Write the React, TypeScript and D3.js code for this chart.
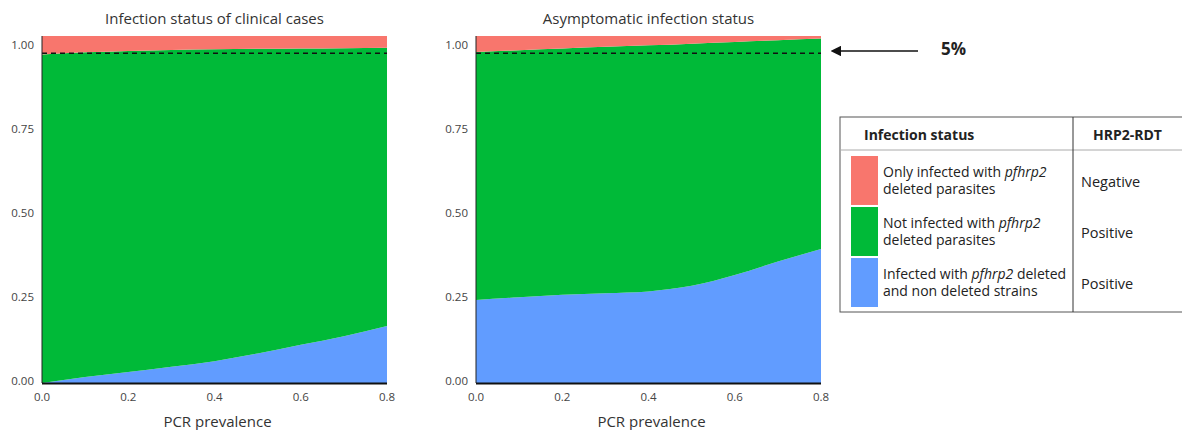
import React from 'react';
import * as d3 from 'd3';

// PCR prevalence sample points
const prevalence = [0, 0.1, 0.2, 0.3, 0.4, 0.5, 0.6, 0.7, 0.8];

// clinical cases: share infected with both deleted and non deleted strains
const clinicalMixed = [0, 0.017, 0.032, 0.047, 0.063, 0.085, 0.11, 0.135, 0.164];
// clinical cases: share only infected with deleted parasites
const clinicalDeletedOnly = [0.053, 0.047, 0.043, 0.04, 0.038, 0.037, 0.036, 0.035, 0.034];

// asymptomatic: mixed infections
const asymMixed = [0.239, 0.247, 0.254, 0.259, 0.264, 0.28, 0.311, 0.35, 0.386];
// asymptomatic: deleted-only infections
const asymDeletedOnly = [0.046, 0.041, 0.036, 0.031, 0.027, 0.022, 0.017, 0.012, 0.007];

const xTicks = [0, 0.2, 0.4, 0.6, 0.8];
const yTicks = [0, 0.25, 0.5, 0.75, 1];
const threshold = 0.95;

const legendRows = [
  { color: '#f8766d', pre: 'Only infected with ', it: 'pfhrp2', post: '', line2: 'deleted parasites', rdt: 'Negative' },
  { color: '#00ba38', pre: 'Not infected with ', it: 'pfhrp2', post: '', line2: 'deleted parasites', rdt: 'Positive' },
  { color: '#619cff', pre: 'Infected with ', it: 'pfhrp2', post: ' deleted', line2: 'and non deleted strains', rdt: 'Positive' },
];

const FONT = '"Open Sans", Lato, sans-serif';

type PanelProps = { x0: number; title: string; mixed: number[]; deletedOnly: number[] };

const Panel = ({ x0, title, mixed, deletedOnly }: PanelProps) => {
  const w = 345;
  const x = d3.scaleLinear().domain([0, 0.8]).range([x0, x0 + w]);
  const y = d3.scaleLinear().domain([0, 1]).range([383, 36]);
  // labels sit a touch inside the data range, as in the source
  const yLab = d3.scaleLinear().domain([0, 1]).range([381, 45]);

  const rows = prevalence.map((p, i) => ({
    p,
    mixed: mixed[i],
    notDeleted: 1 - mixed[i] - deletedOnly[i],
    deletedOnly: deletedOnly[i],
  }));
  const stack = d3.stack<any>().keys(['mixed', 'notDeleted', 'deletedOnly']);
  const series = stack(rows);
  const colors = ['#619cff', '#00ba38', '#f8766d'];

  const area = d3.area<any>()
    .x((d) => x(d.data.p))
    .y0((d) => y(d[0]))
    .y1((d) => y(d[1]))
    .curve(d3.curveMonotoneX);

  return (
    <g>
      <text x={x0 + w / 2} y={24} textAnchor="middle" fontSize={15} fill="#333">{title}</text>
      {series.map((s, i) => (
        <path key={i} d={area(s) || ''} fill={colors[i]} />
      ))}
      <line x1={x(0)} x2={x(0.8)} y1={y(threshold)} y2={y(threshold)} stroke="#111" strokeWidth={1.5} strokeDasharray="5,4" />
      <line x1={x(0)} x2={x(0)} y1={y(1)} y2={y(0)} stroke="#222" strokeWidth={1} />
      <line x1={x(0)} x2={x(0.8)} y1={y(0) + 0.5} y2={y(0) + 0.5} stroke="#111" strokeWidth={2} />
      {yTicks.map((t) => (
        <text key={t} x={x0 - 8} y={yLab(t)} dy="0.35em" textAnchor="end" fontSize={11.5} fill="#444">{t.toFixed(2)}</text>
      ))}
      {xTicks.map((t) => (
        <text key={t} x={x(t)} y={397} dy="0.35em" textAnchor="middle" fontSize={11.5} fill="#444">{t.toFixed(1)}</text>
      ))}
      <text x={x0 + w / 2 + 3} y={427} textAnchor="middle" fontSize={15} fill="#333">PCR prevalence</text>
    </g>
  );
};

const Legend = () => {
  const left = 840, right = 1190, top = 117, bottom = 312, divX = 1073, headY = 150;
  const rowY = d3.scaleBand().domain(legendRows.map((_, i) => String(i))).range([156, 307]).paddingInner(0.04);
  return (
    <g fontSize={14} fill="#222">
      <rect x={left} y={top} width={right - left} height={bottom - top} fill="none" stroke="#555" strokeWidth={1} />
      <line x1={left} x2={right} y1={headY} y2={headY} stroke="#aaa" strokeWidth={1} />
      <line x1={divX} x2={divX} y1={top} y2={bottom} stroke="#333" strokeWidth={1} />
      <text x={864} y={135} dy="0.35em" fontWeight="bold" fontSize={14}>Infection status</text>
      <text x={1093} y={135} dy="0.35em" fontWeight="bold" fontSize={14}>HRP2-RDT</text>
      {legendRows.map((r, i) => {
        const y0 = rowY(String(i)) as number;
        const h = rowY.bandwidth();
        return (
          <g key={i}>
            <rect x={851} y={y0} width={27} height={h} fill={r.color} />
            <text x={883} y={y0 + h / 2 - 8} dy="0.35em">
              {r.pre}<tspan fontStyle="italic">{r.it}</tspan>{r.post}
            </text>
            <text x={883} y={y0 + h / 2 + 9} dy="0.35em">{r.line2}</text>
            <text x={1081} y={y0 + h / 2 + 1} dy="0.35em" fontSize={14.5}>{r.rdt}</text>
          </g>
        );
      })}
    </g>
  );
};

export default function App() {
  return (
    <svg width={1182} height={430} style={{ position: 'absolute', left: 0, top: 0, fontFamily: FONT, background: '#fff' }}>
      <defs>
        <marker id="arrowHead" viewBox="0 0 10 10" refX="1" refY="5" markerWidth="7" markerHeight="7" orient="auto-start-reverse">
          <path d="M0,0 L10,5 L0,10 z" fill="#111" />
        </marker>
      </defs>
      <Panel x0={42} title="Infection status of clinical cases" mixed={clinicalMixed} deletedOnly={clinicalDeletedOnly} />
      <Panel x0={476} title="Asymptomatic infection status" mixed={asymMixed} deletedOnly={asymDeletedOnly} />
      <line x1={918} x2={840} y1={51} y2={51} stroke="#111" strokeWidth={1.5} markerEnd="url(#arrowHead)" />
      <text x={941} y={49} dy="0.35em" fontSize={17} fontWeight="bold" fill="#222">5%</text>
      <Legend />
    </svg>
  );
}
